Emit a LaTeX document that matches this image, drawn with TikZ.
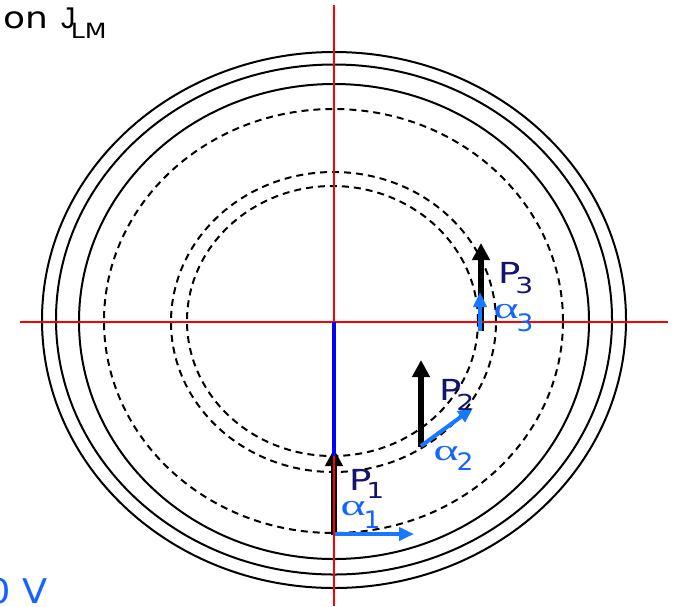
\documentclass[tikz,border=0pt]{standalone}
\usepackage{fontspec}
\setmainfont{DejaVu Sans}
\newfontfamily\grkfont{Liberation Serif}
\newfontfamily\lsansfont{Liberation Sans}
\usetikzlibrary{arrows.meta}
\definecolor{axisred}{RGB}{255,0,0}
\definecolor{pureblue}{RGB}{0,0,255}
\definecolor{alphablue}{RGB}{25,120,255}
\definecolor{labelnavy}{RGB}{20,20,110}
\definecolor{textblue}{RGB}{20,100,255}
\newcommand\psubtext[2]{\raisebox{#1}{\fontsize{22}{24}\selectfont #2}}
\newcommand\asubtext[2]{\raisebox{#1}{\fontsize{24}{26}\selectfont #2}}
\newcommand\alphaglyph{\scalebox{1.45}[1]{\grkfont α}}
\begin{document}
\begin{tikzpicture}[x=1pt,y=-1pt,
  solidring/.style={black,line width=2pt},
  dashring/.style={black,line width=2pt,dash pattern=on 7pt off 5pt},
  axisline/.style={axisred,line width=1.8pt},
  bluebar/.style={pureblue,line width=4pt},
  pvec/.style={black,line width=6pt,-{Triangle[width=17pt,length=17pt]}},
  avec/.style={alphablue,line width=4pt,-{Triangle[width=13pt,length=15pt]}},
  plbl/.style={labelnavy,inner sep=0pt,anchor=base west,font=\fontsize{29}{31}\selectfont,xscale=1.28},
  albl/.style={textblue,inner sep=0pt,anchor=base west,font=\fontsize{30}{32}\selectfont,xscale=1.1},
]
\useasboundingbox (0,0) rectangle (676,606);
\clip (0,0) rectangle (676,606);

% rings
\draw[solidring] (334,320) ellipse [x radius=292pt, y radius=268pt];
\draw[solidring] (334,319.5) ellipse [x radius=278pt, y radius=255pt];
\draw[solidring] (334,321.5) ellipse [x radius=255pt, y radius=237.5pt];
\draw[dashring] (333.5,321) ellipse [x radius=229.5pt, y radius=212pt];
\draw[dashring] (333.5,322) ellipse [x radius=162.5pt, y radius=150pt];
\draw[dashring] (332.5,321) ellipse [x radius=145.5pt, y radius=135pt];

% coordinates
\coordinate (O) at (334,322);
\coordinate (vtop) at (334,5);
\coordinate (vbot) at (334,606);
\coordinate (hleft) at (20,322);
\coordinate (hright) at (668,322);
\coordinate (bluebot) at (334,456);
\coordinate (p1base) at (334,535);
\coordinate (p1tip) at (334,449);
\coordinate (p2base) at (421,447);
\coordinate (p2tip) at (421,360);
\coordinate (p3base) at (481,331);
\coordinate (p3tip) at (481,243);
\coordinate (a1base) at (335,534);
\coordinate (a1tip) at (414,534);
\coordinate (a2base) at (421,446);
\coordinate (a2tip) at (473,408);
\coordinate (a3base) at (480,331);
\coordinate (a3tip) at (480,292);

% P vectors
\draw[pvec] (p1base) -- (p1tip);
\draw[pvec] (p2base) -- (p2tip);
\draw[pvec] (p3base) -- (p3tip);

% axes
\draw[axisline] (vtop) -- (vbot);
\draw[axisline] (hleft) -- (hright);

% blue radius
\draw[bluebar] (O) -- (bluebot);

% alpha vectors
\draw[avec] (a1base) -- (a1tip);
\draw[avec] (a2base) -- (a2tip);
\draw[avec] (a3base) -- (a3tip);

% labels
\node[plbl] (P1) at (349.4,490) {P\kern-4.5pt\psubtext{-8pt}{1}};
\node[plbl] (P2) at (439.4,400) {P\kern-4.5pt\psubtext{-10pt}{2}};
\node[plbl] (P3) at (498.4,283) {P\kern-4.5pt\psubtext{-10pt}{3}};
\node[albl] (A1) at (340.5,515) {\alphaglyph\kern-2pt\asubtext{-13pt}{1}};
\node[albl] (A2) at (433.5,460) {\alphaglyph\kern-2pt\asubtext{-10pt}{2}};
\node[albl] (A3) at (493.5,318) {\alphaglyph\kern-2pt\asubtext{-13pt}{3}};

% texts
\node[inner sep=0pt, anchor=base west, font=\fontsize{30}{32}\selectfont, xscale=1.2] (title) at (3,28)
  {on\hspace{10.9pt}\scalebox{0.8}[1]{\lsansfont J}\kern-4pt\raisebox{-10pt}{\fontsize{21}{23}\selectfont LM}};
\node[textblue, inner sep=0pt, anchor=base west, font=\fontsize{34}{36}\selectfont, xscale=1.08] (volt) at (-12.5,603) {0 V};
\end{tikzpicture}
\end{document}
